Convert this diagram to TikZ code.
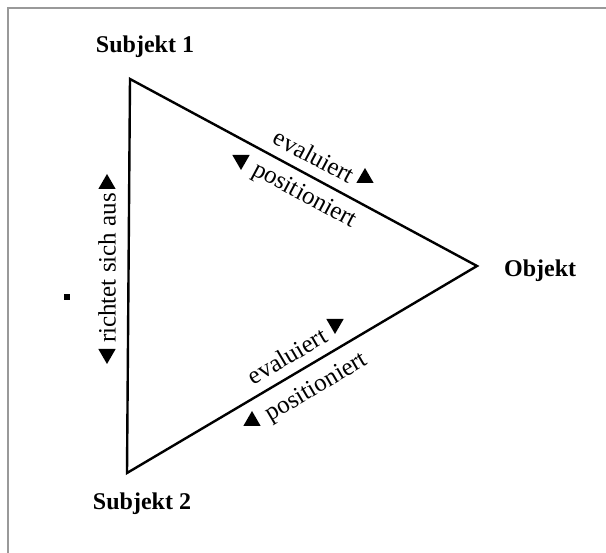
\documentclass[tikz,border=0pt]{standalone}
\usepackage{fontspec}
\setmainfont{Liberation Serif}
\usetikzlibrary{shapes.geometric}
\begin{document}
\begin{tikzpicture}[x=1pt,y=-1pt,
  lbl/.style={font=\fontsize{24}{28}\selectfont\bfseries, inner sep=0},
  edgetxt/.style={font=\fontsize{25}{30}\selectfont, inner sep=0},
  tri/.style={regular polygon, regular polygon sides=3, fill=black, inner sep=0, minimum size=20pt},
  triup/.style={tri},
  tridown/.style={tri, rotate=180},
  edgeline/.style={line width=2.4pt, line join=miter},
  framecol/.style={draw=black!40, line width=1.2pt}]
\useasboundingbox (0,0) rectangle (606,553);
% frame
\coordinate (f1) at (8,553);
\coordinate (f2) at (8,8);
\coordinate (f3) at (606,8);
\draw[framecol] (f1) -- (f2) -- (f3);
% vertices
\coordinate (A) at (130,79);
\coordinate (B) at (127,473);
\coordinate (C) at (477,266);
\draw[edgeline] (A) -- (C) -- (B) -- cycle;
% labels
\node[lbl, anchor=base] (s1) at (145,53) {Subjekt 1};
\node[lbl, anchor=base] (s2) at (142,510) {Subjekt 2};
\node[lbl, anchor=base west] (ob) at (504,277) {Objekt};
% top edge
\node[edgetxt, rotate=-28.2] (te) at (314,156) {evaluiert};
\node[edgetxt, rotate=-28.2] (tp) at (304,196) {positioniert};
\node[triup] (t1) at (365,178) {};
\node[tridown] (t2) at (241,160) {};
% bottom edge
\node[edgetxt, rotate=30.5] (be) at (287,356) {evaluiert};
\node[edgetxt, rotate=30.5] (bp) at (317,388) {positioniert};
\node[tridown] (b1) at (335,324) {};
\node[triup] (b2) at (252,421) {};
% left edge
\node[edgetxt, rotate=90] (le) at (107,268) {richtet sich aus};
\node[triup] (l1) at (107,184) {};
\node[tridown] (l2) at (107,354) {};
% small square
\node[fill=black, minimum size=6pt, inner sep=0] (sq) at (67,297) {};
\end{tikzpicture}
\end{document}
